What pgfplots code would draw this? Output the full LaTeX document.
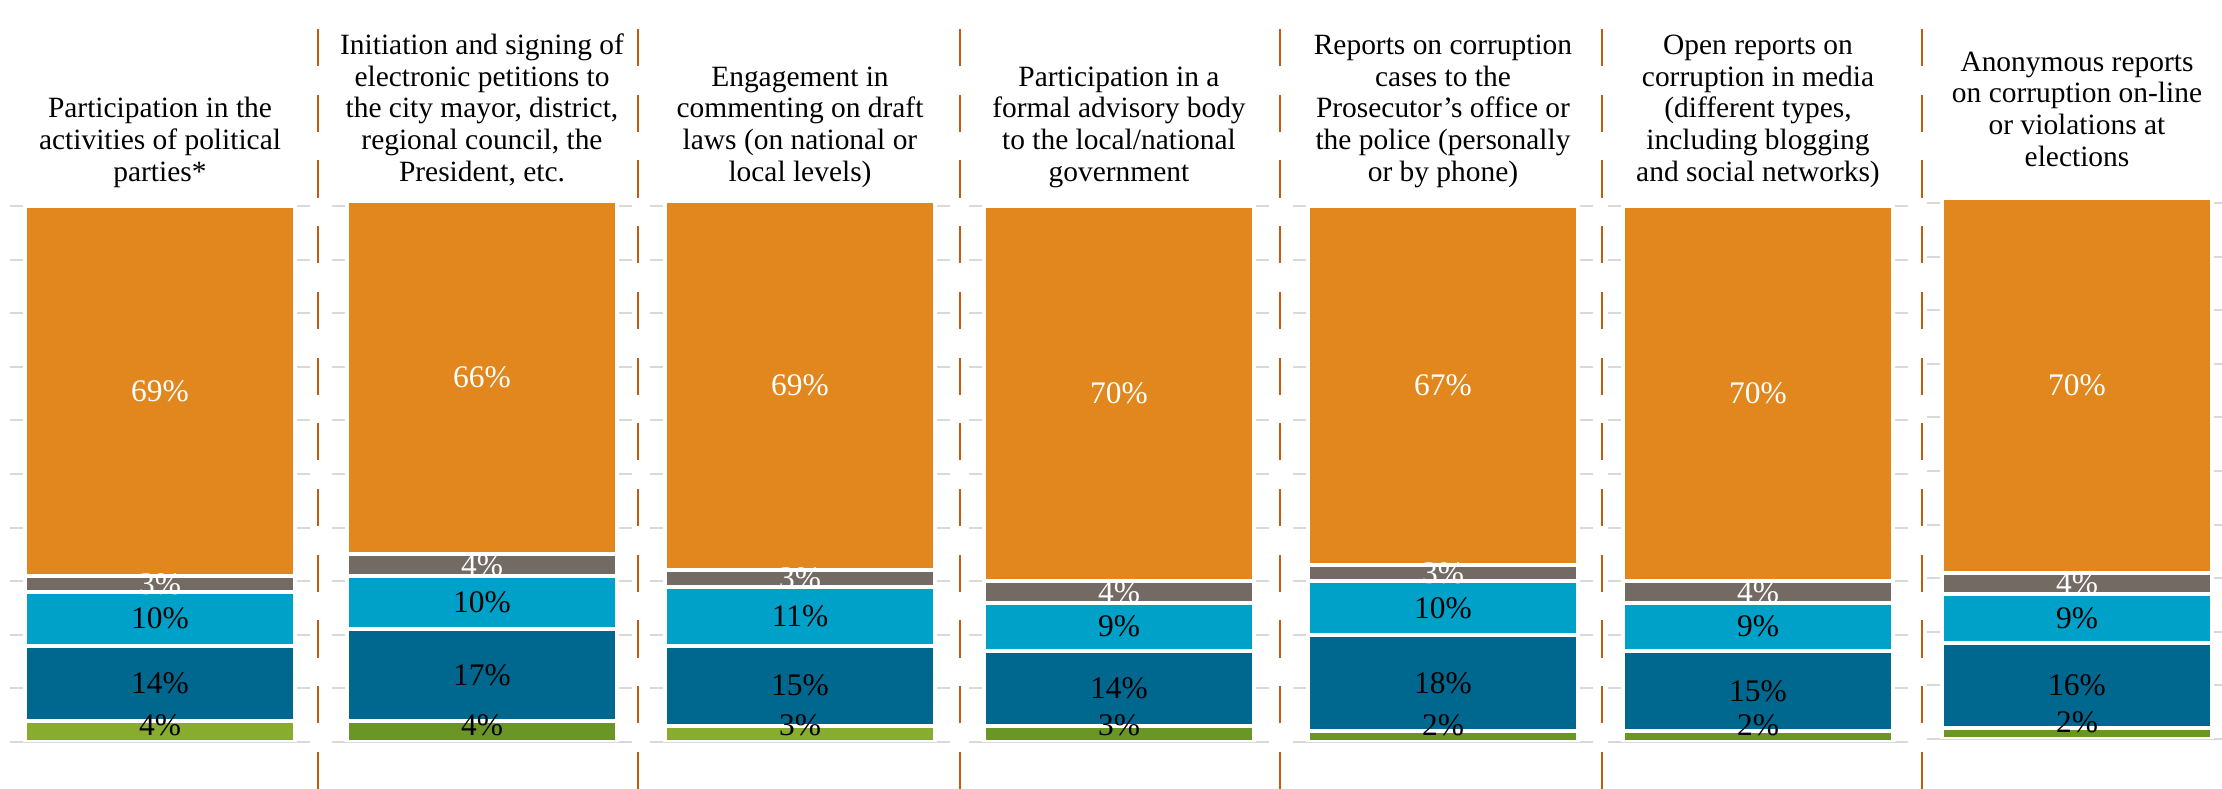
\documentclass[border=0pt]{standalone}
\usepackage{pgfplots}
\pgfplotsset{compat=1.18}
\usepackage{fontspec}
\setmainfont{Liberation Serif}

\definecolor{orng}{RGB}{225,135,29}
\definecolor{grey}{RGB}{115,106,100}
\definecolor{lblue}{RGB}{0,161,201}
\definecolor{dblue}{RGB}{0,104,142}
\definecolor{lgreen}{RGB}{136,172,46}
\definecolor{dgreen}{RGB}{105,150,36}
\definecolor{sepc}{RGB}{197,90,17}
\definecolor{gridc}{RGB}{217,217,217}

% 1px of the reference = 0.35pt; 100% = 536px
\newdimen\unitY \unitY=1.876pt

\pgfplotsset{
  getmeta/.code={%
    \pgfkeys{/pgf/fpu=true,/pgf/fpu/output format=fixed}%
    \pgfmathparse{\pgfplotspointmeta}\global\let\segval\pgfmathresult
    \pgfkeys{/pgf/fpu=false}},
  panel/.style={
    scale only axis, anchor=south west,
    width=105pt, height=187.6pt,
    xmin=-0.5, xmax=0.5, ymin=0, ymax=100,
    ybar stacked, bar width=0.903,
    xtick=\empty, ytick={0,10,...,100}, yticklabels={},
    ymajorgrids, grid style={draw=gridc, line width=0.7pt},
    axis line style={draw=none}, major tick length=0pt,
    every axis title/.style={at={(0.5,1)}, anchor=south, yshift=5.1pt,
      inner sep=0pt, align=center, font=\fontsize{10.3}{11.1}\selectfont},
  },
  % rounded shares add up to 101: one more unit of room so the top label is kept
  panel101/.style={panel, ymax=101, height=189.476pt,
    every axis title/.append style={yshift=-1.876pt}},
  % labels sit at the middle of each segment
  seg/.style 2 args={fill=#1, draw=white, line width=1.4pt,
    nodes near coords={\pgfmathprintnumber[assume math mode=true]{\pgfplotspointmeta}\%},
    every node near coord/.style={text=#2, anchor=center,
      font=\fontsize{11}{12}\selectfont}},
  % bottom segment: label kept inside the plot area, centred near 3.1%
  segg/.style={fill=#1, draw=white, line width=1.4pt,
    nodes near coords={\pgfmathprintnumber[assume math mode=true]{\pgfplotspointmeta}\%},
    every node near coord/.style={/pgfplots/getmeta, text=black, anchor=center,
      font=\fontsize{11}{12}\selectfont, yshift=(3.1-0.5*\segval)*\unitY}},
}

\begin{document}
\begin{tikzpicture}[x=0.35pt,y=0.35pt]
\useasboundingbox (0,0) rectangle (2222,789);

\begin{axis}[panel, at={({10*0.35pt},{47*0.35pt})},
  title={Participation in the\\activities of political\\parties*\strut}]
\addplot[segg=lgreen] coordinates {(0,4)};
\addplot[seg={dblue}{black}] coordinates {(0,14)};
\addplot[seg={lblue}{black}] coordinates {(0,10)};
\addplot[seg={grey}{white}] coordinates {(0,3)};
\addplot[seg={orng}{white}] coordinates {(0,69)};
\end{axis}

\begin{axis}[panel101, at={({332*0.35pt},{47*0.35pt})},
  title={Initiation and signing of\\electronic petitions to\\the city mayor, district,\\regional council, the\\President, etc.\strut}]
\addplot[segg=dgreen] coordinates {(0,4)};
\addplot[seg={dblue}{black}] coordinates {(0,17)};
\addplot[seg={lblue}{black}] coordinates {(0,10)};
\addplot[seg={grey}{white}] coordinates {(0,4)};
\addplot[seg={orng}{white}] coordinates {(0,66)};
\end{axis}

\begin{axis}[panel101, at={({650*0.35pt},{47*0.35pt})},
  title={Engagement in\\commenting on draft\\laws (on national or\\local levels)\strut}]
\addplot[segg=lgreen] coordinates {(0,3)};
\addplot[seg={dblue}{black}] coordinates {(0,15)};
\addplot[seg={lblue}{black}] coordinates {(0,11)};
\addplot[seg={grey}{white}] coordinates {(0,3)};
\addplot[seg={orng}{white}] coordinates {(0,69)};
\end{axis}

\begin{axis}[panel, at={({969*0.35pt},{47*0.35pt})},
  title={Participation in a\\formal advisory body\\to the local/national\\government\strut}]
\addplot[segg=dgreen] coordinates {(0,3)};
\addplot[seg={dblue}{black}] coordinates {(0,14)};
\addplot[seg={lblue}{black}] coordinates {(0,9)};
\addplot[seg={grey}{white}] coordinates {(0,4)};
\addplot[seg={orng}{white}] coordinates {(0,70)};
\end{axis}

\begin{axis}[panel, at={({1293*0.35pt},{47*0.35pt})},
  title={Reports on corruption\\cases to the\\Prosecutor’s office or\\the police (personally\\or by phone)\strut}]
\addplot[segg=dgreen] coordinates {(0,2)};
\addplot[seg={dblue}{black}] coordinates {(0,18)};
\addplot[seg={lblue}{black}] coordinates {(0,10)};
\addplot[seg={grey}{white}] coordinates {(0,3)};
\addplot[seg={orng}{white}] coordinates {(0,67)};
\end{axis}

\begin{axis}[panel, at={({1608*0.35pt},{47*0.35pt})},
  title={Open reports on\\corruption in media\\(different types,\\including blogging\\and social networks)\strut}]
\addplot[segg=dgreen] coordinates {(0,2)};
\addplot[seg={dblue}{black}] coordinates {(0,15)};
\addplot[seg={lblue}{black}] coordinates {(0,9)};
\addplot[seg={grey}{white}] coordinates {(0,4)};
\addplot[seg={orng}{white}] coordinates {(0,70)};
\end{axis}

\begin{axis}[panel101, at={({1927*0.35pt},{50*0.35pt})},
  title style={yshift=4.2pt},
  title={Anonymous reports\\on corruption on-line\\or violations at\\elections\strut}]
\addplot[segg=dgreen] coordinates {(0,2)};
\addplot[seg={dblue}{black}] coordinates {(0,16)};
\addplot[seg={lblue}{black}] coordinates {(0,9)};
\addplot[seg={grey}{white}] coordinates {(0,4)};
\addplot[seg={orng}{white}] coordinates {(0,70)};
\end{axis}

\foreach \sx in {318,638,960,1280,1602,1922}
  \draw[sepc, line width=0.9pt, dash pattern=on 13 off 10] (\sx,0) -- (\sx,781);
\end{tikzpicture}
\end{document}
